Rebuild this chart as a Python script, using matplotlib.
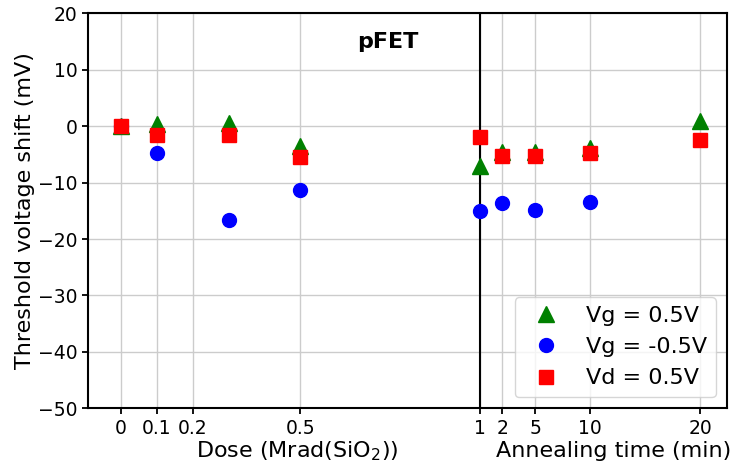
import numpy as np
import matplotlib
matplotlib.use("Agg")
import matplotlib.pyplot as plt

# dose points (Mrad(SiO2)) followed by annealing times (min)
dose = [0, 0.1, 0.3, 0.5]
anneal_t = [0, 2, 5, 10, 20]
ANNEAL_SCALE = 1 / 32.7   # x units per minute after the 1 Mrad mark

vg_pos = [0.0, 0.35, 0.5, -3.6, -7.1, -4.6, -4.6, -3.8, 0.95]
vg_neg = [0.0, -4.7, -16.7, -11.3, -15.1, -13.6, -14.8, -13.4, np.nan]
vd_pos = [0.0, -1.6, -1.6, -5.5, -2.0, -5.3, -5.3, -4.8, -2.4]

tick_dose = [0, 0.1, 0.2, 0.5]
tick_time = [2, 5, 10, 20]

x = np.array(dose + [1 + t * ANNEAL_SCALE for t in anneal_t])
xticks = tick_dose + [1] + [1 + t * ANNEAL_SCALE for t in tick_time]
xlabels = ["0", "0.1", "0.2", "0.5", "1"] + [str(t) for t in tick_time]

fig = plt.figure(figsize=(7.3, 4.67), dpi=100)
ax = fig.add_axes([0.1205, 0.1257, 0.8754, 0.8458])

ax.plot(x, vg_pos, "^", color="green", ms=12, ls="none", label="Vg = 0.5V", zorder=3)
ax.plot(x, vg_neg, "o", color="blue", ms=10, ls="none", label="Vg = -0.5V", zorder=3)
ax.plot(x, vd_pos, "s", color="red", ms=10.5, ls="none", label="Vd = 0.5V", zorder=4)

ax.axvline(1, color="black", lw=1.5, zorder=2)

ax.set_xlim(-0.091, 1.686)
ax.set_ylim(-50, 20)
ax.set_xticks(xticks)
ax.set_xticklabels(xlabels)
ax.set_yticks(np.arange(-50, 21, 10))
ax.tick_params(labelsize=13.5, width=1.3, length=4)
ax.grid(True, color="#cccccc", lw=1)
ax.set_axisbelow(True)
for s in ax.spines.values():
    s.set_linewidth(1.5)

ax.set_ylabel("Threshold voltage shift (mV)", fontsize=16, labelpad=2)

# two x labels under the two halves of the axis
xlab_y = -(457 - 408.3) / 395   # baseline in axes fraction
ax.text(0.49, xlab_y, "Dose (Mrad(SiO$_2$))", transform=ax.get_xaxis_transform(),
        ha="center", va="baseline", fontsize=16)
ax.text(1.37, xlab_y, "Annealing time (min)", transform=ax.get_xaxis_transform(),
        ha="center", va="baseline", fontsize=16)
ax.text(0.743, 14.9, "pFET", fontsize=16, fontweight="bold", ha="center", va="center")

ax.legend(loc="lower right", fontsize=16, handletextpad=0.8, labelspacing=0.5,
          borderaxespad=0.5)

fig.savefig("out.png", dpi=100)
